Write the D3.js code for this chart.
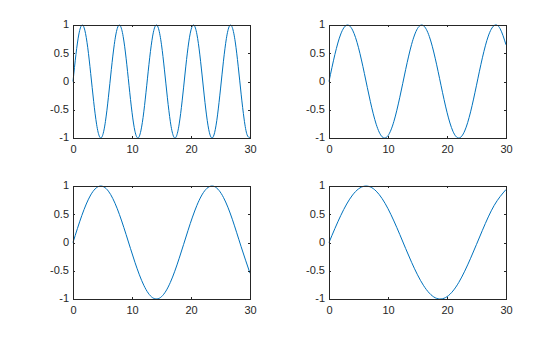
<!DOCTYPE html>
<html>
<head>
<meta charset="utf-8">
<script src="https://cdn.jsdelivr.net/npm/d3@7"></script>
<style>
  body { margin: 0; background: #fff; }
  svg { display: block; }
  .tick text { font-family: "Liberation Sans", Arial, sans-serif; font-size: 11px; fill: #262626; }
</style>
</head>
<body>
<div id="chart"></div>
<script>
// figure size
const width = 560;
const height = 337;

// x samples for each panel
const xTopLeft = d3.range(0, 30.01, 0.5);
const xTopRight = d3.range(0, 30.01, 1);
const xBottomLeft = d3.range(0, 30.01, 1.5);
const xBottomRight = d3.range(0, 30.01, 2);

// y values
const yTopLeft = [0, 0.479, 0.841, 0.997, 0.909, 0.598, 0.141, -0.351, -0.757, -0.978,
  -0.959, -0.706, -0.279, 0.215, 0.657, 0.938, 0.989, 0.798, 0.412, -0.075,
  -0.544, -0.880, -1.000, -0.875, -0.537, -0.066, 0.420, 0.804, 0.991, 0.935,
  0.650, 0.206, -0.288, -0.712, -0.961, -0.976, -0.751, -0.343, 0.150, 0.606,
  0.913, 0.997, 0.837, 0.471, -0.009, -0.487, -0.846, -0.998, -0.906, -0.591,
  -0.132, 0.359, 0.763, 0.979, 0.956, 0.700, 0.271, -0.224, -0.664, -0.942, -0.988];
const yTopRight = [0, 0.479, 0.841, 0.997, 0.909, 0.598, 0.141, -0.351, -0.757, -0.978,
  -0.959, -0.706, -0.279, 0.215, 0.657, 0.938, 0.989, 0.798, 0.412, -0.075,
  -0.544, -0.880, -1.000, -0.875, -0.537, -0.066, 0.420, 0.804, 0.991, 0.935, 0.650];
const yBottomLeft = [0, 0.479, 0.841, 0.997, 0.909, 0.598, 0.141, -0.351, -0.757, -0.978,
  -0.959, -0.706, -0.279, 0.215, 0.657, 0.938, 0.989, 0.798, 0.412, -0.075, -0.544];
const yBottomRight = [0, 0.479, 0.841, 0.997, 0.909, 0.598, 0.141, -0.351, -0.757, -0.978,
  -0.959, -0.706, -0.279, 0.215, 0.657, 0.938];

// tick values and labels
const xTicks = [0, 10, 20, 30];
const yTicks = [-1, -0.5, 0, 0.5, 1];
const yTickLabels = ["-1", "-0.5", "0", "0.5", "1"];

const panels = [
  {xs: xTopLeft, ys: yTopLeft, left: 73, top: 25},
  {xs: xTopRight, ys: yTopRight, left: 329, top: 25},
  {xs: xBottomLeft, ys: yBottomLeft, left: 73, top: 186},
  {xs: xBottomRight, ys: yBottomRight, left: 329, top: 186}
];
const pw = 177; // plot width
const ph = 113; // plot height
const axisColor = "#262626";
const lineColor = "#0072BD";

const svg = d3.select("#chart")
  .append("svg")
  .attr("width", width)
  .attr("height", height);

panels.forEach(p => {
  const g = svg.append("g").attr("transform", `translate(${p.left},${p.top})`);

  const x = d3.scaleLinear().domain([0, 30]).range([0, pw]);
  const y = d3.scaleLinear().domain([-1, 1]).range([ph, 0]);

  // the curve
  const line = d3.line()
    .x((d, i) => x(p.xs[i]))
    .y(d => y(d))
    .curve(d3.curveNatural);

  g.append("path")
    .datum(p.ys)
    .attr("fill", "none")
    .attr("stroke", lineColor)
    .attr("stroke-width", 1)
    .attr("d", line);

  // axes, ticks pointing inward, box on all sides
  const tl = -2;
  const bottom = g.append("g").attr("transform", `translate(0,${ph})`)
    .call(d3.axisBottom(x).tickValues(xTicks).tickSize(tl).tickPadding(7));
  const top = g.append("g")
    .call(d3.axisTop(x).tickValues(xTicks).tickSize(tl).tickFormat(""));
  const left = g.append("g")
    .call(d3.axisLeft(y).tickValues(yTicks).tickSize(tl).tickPadding(4)
      .tickFormat((d, i) => yTickLabels[i]));
  const right = g.append("g").attr("transform", `translate(${pw},0)`)
    .call(d3.axisRight(y).tickValues(yTicks).tickSize(tl).tickFormat(""));

  [bottom, top, left, right].forEach(a => {
    a.attr("font-family", null).attr("font-size", null);
    a.selectAll(".domain").attr("stroke", axisColor).attr("shape-rendering", "crispEdges");
    a.selectAll(".tick line").attr("stroke", axisColor).attr("shape-rendering", "crispEdges");
  });
  left.selectAll(".tick text").attr("dy", "0.25em");
});
</script>
</body>
</html>
